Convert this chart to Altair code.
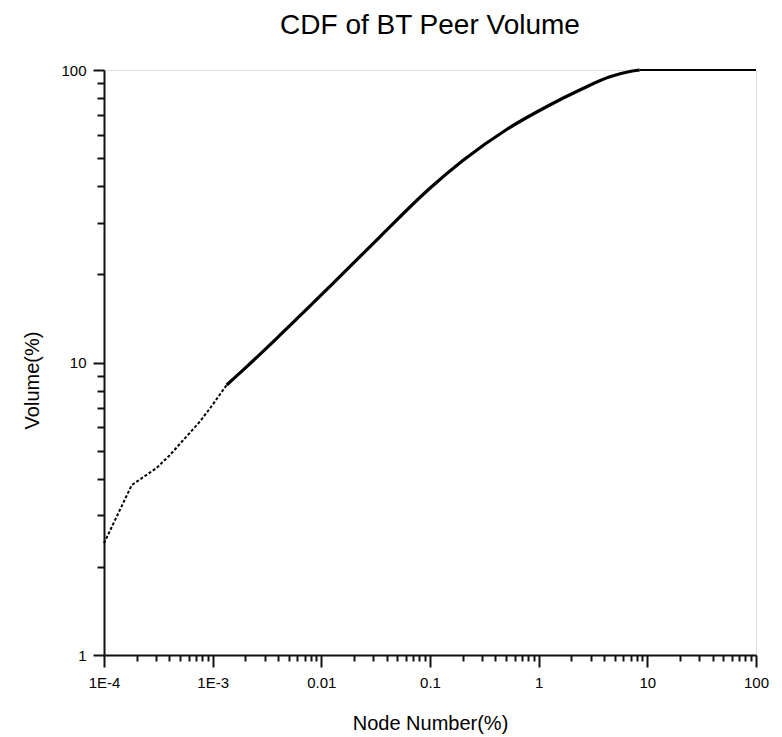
import altair as alt
import pandas as pd

# ---- data ----
node_pct = [1e-4, 1.8e-4, 3.05e-4, 4.05e-4, 5.56e-4, 7.63e-4, 9.8e-4, 1.346e-3,
            2.06e-3, 4.16e-3, 0.012, 0.0346, 0.0998, 0.202, 0.507, 1.18, 2.39,
            4.52, 6.9, 8.5, 100]
volume_pct = [2.41, 3.81, 4.36, 4.83, 5.51, 6.28, 7.10, 8.38,
              9.68, 12.4, 18.2, 26.9, 39.4, 49.1, 62.6, 74.9, 85.4,
              94.8, 98.8, 100, 100]

x_major = [1e-4, 1e-3, 0.01, 0.1, 1, 10, 100]
x_labels = ["1E-4", "1E-3", "0.01", "0.1", "1", "10", "100"]
y_major = [1, 10, 100]
y_labels = ["1", "10", "100"]

title_text = ["CDF of BT Peer Volume"]
x_title = "Node Number(%)"
y_title = "Volume(%)"

# segment boundaries (sparse start, dense middle, flat end)
sparse_end = 1.346e-3
dense_end = 8.5

rows = []
for n, v in zip(node_pct, volume_pct):
    if n <= sparse_end:
        rows.append({"node": n, "volume": v, "seg": "sparse"})
    if sparse_end <= n <= dense_end:
        rows.append({"node": n, "volume": v, "seg": "dense"})
    if n >= dense_end:
        rows.append({"node": n, "volume": v, "seg": "flat"})
df = pd.DataFrame(rows)


def minor_ticks(majors):
    out = []
    for i, m in enumerate(majors):
        out.append(m)
        if i < len(majors) - 1:
            for k in range(2, 10):
                out.append(float(f"{m * k:.10g}"))
    return out


def label_expr(values, labels):
    parts = [f"abs(datum.value / {v!r} - 1) < 1e-6 ? '{l}'" for v, l in zip(values, labels)]
    return " : ".join(parts) + " : ''"


major_test = "abs(log(datum.value) / LN10 - round(log(datum.value) / LN10)) < 0.001"
FONT = "Liberation Sans, Arial, sans-serif"

common_axis = dict(
    grid=False,
    domainColor="#111111",
    domainWidth=2,
    tickColor="#111111",
    tickWidth=2,
    labelColor="black",
    labelFont=FONT,
    labelFontSize=15,
    labelOverlap=False,
    labelFlush=False,
    titleFont=FONT,
    titleFontSize=20,
    titleFontWeight="normal",
    titleColor="black",
)

xaxis = alt.Axis(
    values=minor_ticks(x_major),
    labelExpr=label_expr(x_major, x_labels),
    tickSize={"condition": {"test": major_test, "value": 12}, "value": 6},
    labelPadding=8,
    title=x_title,
    titleY=74,
    titleBaseline="alphabetic",
    **common_axis,
)

yaxis = alt.Axis(
    values=minor_ticks(y_major),
    labelExpr=label_expr(y_major, y_labels),
    tickSize={"condition": {"test": major_test, "value": 11}, "value": 7},
    labelPadding=7,
    title=y_title,
    titleAngle=270,
    titleX=-72,
    titleY=310,
    titleAlign="center",
    titleBaseline="middle",
    **common_axis,
)

xs = alt.X("node:Q", scale=alt.Scale(type="log", domain=[1e-4, 100], nice=False), axis=xaxis)
ys = alt.Y("volume:Q", scale=alt.Scale(type="log", domain=[1, 100], nice=False), axis=yaxis)

base = alt.Chart(df).encode(x=xs, y=ys, order="node:Q")

sparse = base.transform_filter(alt.datum.seg == "sparse").mark_line(
    color="black", strokeWidth=2, strokeDash=[3, 2]
)
dense = base.transform_filter(alt.datum.seg == "dense").mark_line(
    color="black", strokeWidth=3.2, interpolate="monotone"
)
flat = base.transform_filter(alt.datum.seg == "flat").mark_line(
    color="black", strokeWidth=1.8
)

title = alt.Chart(pd.DataFrame({"t": title_text})).mark_text(
    font=FONT, fontSize=28, color="black", align="center", baseline="alphabetic"
).encode(text="t:N", x=alt.value(326), y=alt.value(-36))

chart = (
    alt.layer(sparse, dense, flat, title)
    .properties(
        width=652,
        height=585,
        autosize=alt.AutoSizeParams(type="none"),
        padding={"left": 104, "top": 70, "right": 26, "bottom": 82},
    )
    .configure_view(strokeWidth=0)
    .configure(background="white")
)

chart.save("out.html", embed_options={"renderer": "svg", "actions": False})
